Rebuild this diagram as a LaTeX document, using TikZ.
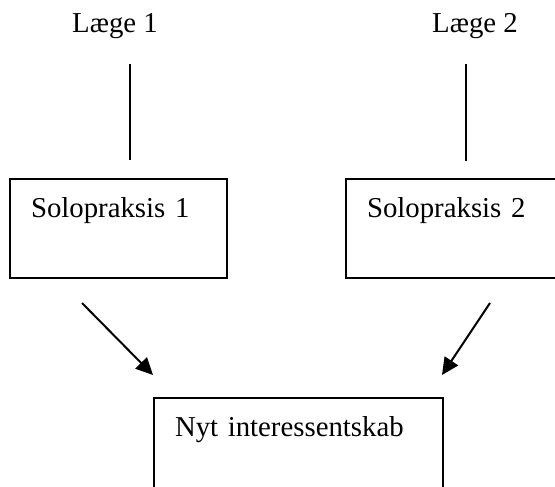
\documentclass[tikz,border=0pt]{standalone}
\usepackage{fontspec}
\setmainfont{Liberation Serif}
\usetikzlibrary{arrows.meta}
\tikzset{
  praksis/.style={draw, line width=1pt, anchor=north west, align=left,
    inner xsep=10.5pt, inner ysep=0pt, text height=19pt, text depth=30.5pt},
  label/.style={anchor=base, inner sep=0pt},
  link/.style={line width=1pt},
  merge/.style={line width=1pt, -{Triangle[length=8.5pt,width=8pt]}}
}
\begin{document}
\begin{tikzpicture}[x=0.5pt,y=-0.5pt,font=\fontsize{14.4}{17}\selectfont]
  \useasboundingbox (0,0) rectangle (555,486);
  \clip (0,0) rectangle (555,486);
  % doctors
  \node[label] (laege1) at (115,33) {Læge 1};
  \node[label] (laege2) at (475,33) {Læge 2};
  % practices
  \node[praksis, text width=87.5pt] (solo1) at (9,178) {Solopraksis 1};
  \node[praksis, text width=100pt] (solo2) at (345,178) {Solopraksis 2};
  \node[praksis, text width=123.5pt] (nyt) at (153,397) {Nyt interessentskab};
  % connector ends
  \coordinate (l1a) at (130,64);  \coordinate (l1b) at (130,160);
  \coordinate (l2a) at (466,64);  \coordinate (l2b) at (466,161);
  \coordinate (s1) at (82,303);   \coordinate (n1) at (153,375);
  \coordinate (s2) at (490,303);  \coordinate (n2) at (442,375);
  \draw[link] (l1a) -- (l1b);
  \draw[link] (l2a) -- (l2b);
  \draw[merge] (s1) -- (n1);
  \draw[merge] (s2) -- (n2);
\end{tikzpicture}
\end{document}
